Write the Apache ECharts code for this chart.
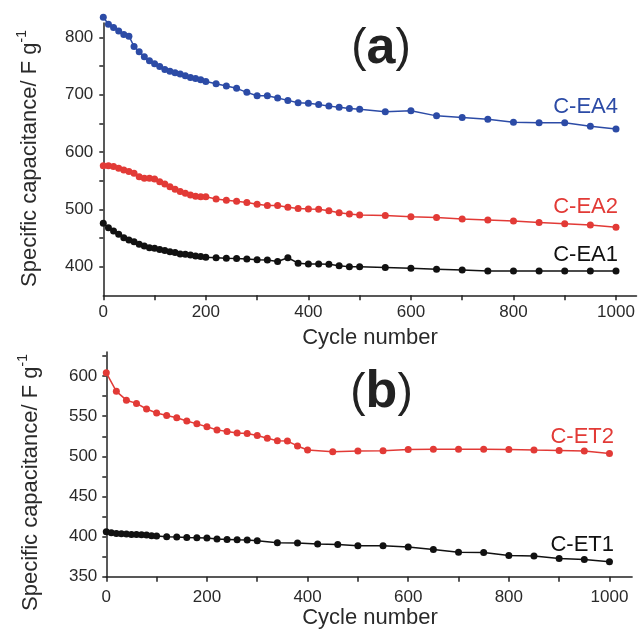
<!DOCTYPE html>
<html><head><meta charset="utf-8">
<script src="https://cdn.jsdelivr.net/npm/echarts@6/dist/echarts.min.js"></script>
<style>html,body{margin:0;padding:0;background:#fff}#c{width:638px;height:634px}</style>
</head><body><div id="c"></div>
<script>
// ---------- Data (panel a) ----------
const cyclesA = [0,10,20,30,40,50,60,70,80,90,100,110,120,130,140,150,160,170,180,190,200,
  220,240,260,280,300,320,340,360,380,400,420,440,460,480,500,
  550,600,650,700,750,800,850,900,950,1000];
const capEA4 = [835,823,817,811,805,802,784,775,766,759,754,749,744,741,738,736,733,730,728,726,723,
  719,715,711,704,698,698,694,690,686,685,683,680,678,676,674.5,
  670,672,663,660,657,652,651,651,645,640];
const capEA2 = [576,576,574.5,571.5,568.5,566,563,557,554,554,553,548,544,539.5,535,531,528,525,523,522,522,
  518,516,514,512,509,506.5,506.5,503.5,501.5,500.5,500,497.5,494,492,490,
  489,487,485.5,483,481.5,479.5,477,475,472.5,468.5];
const capEA1 = [475.5,468,462,456.5,450.5,446.5,443.5,439,436,433,432,430,428,426,424.5,422,421.5,420.5,418.5,417.5,416.5,
  415.5,414.5,414,413.5,412,411.5,409,415.5,406,404.5,404.5,404,401.5,400,400,
  398.5,397,395.5,394,392.5,392.5,392.5,392.5,392.5,392.5];

// ---------- Data (panel b) ----------
const cyclesET2 = [0,20,40,60,80,100,120,140,160,180,200,220,240,260,280,300,320,340,360,380,400,
  450,500,550,600,650,700,750,800,850,900,950,1000];
const capET2 = [604,581,570,566,559,554,551,548,544,540.5,537,533,531,529,528.5,526,522.5,519.5,519,513,508,
  505.7,506.6,507,508.7,509,509,509,508.7,507.8,507.4,506.6,503.7];
const cyclesET1 = [0,10,20,30,40,50,60,70,80,90,100,120,140,160,180,200,220,240,260,280,300,
  340,380,420,460,500,550,600,650,700,750,800,850,900,950,1000];
const capET1 = [406,404.8,404,403.6,403.2,402.8,402.8,402.4,402,401,400.7,399.8,399.5,399,398.6,398.2,397,396.6,396,395.7,394.8,
  392.4,392,391,390.3,388.6,388.6,387,384,380.7,380.3,376.6,375.8,372.9,371.6,368.7];

// ---------- Tick labels ----------
const xTickLabels = [0,200,400,600,800,1000];
const xTickMarks = [0,100,200,300,400,500,600,700,800,900,1000];
const yTickLabelsA = [400,500,600,700,800];
const yTickMarksA = [400,450,500,550,600,650,700,750,800];
const yTickLabelsB = [350,400,450,500,550,600];
const yTickMarksB = [350,375,400,425,450,475,500,525,550,575,600,625];

const FONT = 'Liberation Sans, Arial, sans-serif';
const AX = '#222';
const TXT = '#2a2a2a';
const BLUE = '#2c4ba6', RED = '#e23a36', BLACK = '#111111';

function ser(name, xs, ys, color, idx) {
  return {
    name, type: 'line', xAxisIndex: idx, yAxisIndex: idx,
    data: xs.map((x, i) => [x, ys[i]]),
    symbol: 'circle', symbolSize: 7, showSymbol: true, clip: false,
    lineStyle: { color, width: 1.5 }, itemStyle: { color },
    emphasis: { disabled: true }
  };
}
function xAx(idx, max, margin) {
  return {
    type: 'value', gridIndex: idx, min: 0, max,
    axisLine: { show: true, onZero: false, lineStyle: { color: AX, width: 1.5 } },
    axisTick: { show: true, inside: false, length: 5, customValues: xTickMarks, lineStyle: { color: AX, width: 1.5 } },
    axisLabel: { customValues: xTickLabels, margin, fontSize: 17, color: TXT, fontFamily: FONT, formatter: v => String(v) },
    splitLine: { show: false }
  };
}
function yAx(idx, min, max, labels, marks, margin) {
  return {
    type: 'value', gridIndex: idx, min, max,
    axisLine: { show: true, onZero: false, lineStyle: { color: AX, width: 1.5 } },
    axisTick: { show: true, inside: false, length: 4, customValues: marks, lineStyle: { color: AX, width: 1.5 } },
    axisLabel: { customValues: labels, margin, fontSize: 17, color: TXT, fontFamily: FONT, formatter: v => String(v) },
    splitLine: { show: false }
  };
}
function label(text, x, y, color, size) {
  return { type: 'text', x, y, z: 100,
    style: { text, fill: color, fontSize: size || 22, fontFamily: FONT, align: 'right', verticalAlign: 'middle' } };
}
function centerText(text, x, y, size) {
  return { type: 'text', x, y, z: 100,
    style: { text, fill: TXT, fontSize: size, fontFamily: FONT, align: 'center', verticalAlign: 'middle' } };
}
function yName(x, y) {
  return { type: 'text', x, y, rotation: Math.PI / 2, z: 100,
    style: { text: '{m|Specific capacitance/ F g}{s|-1}', align: 'center', verticalAlign: 'middle',
      rich: { m: { fontSize: 22, fontFamily: FONT, fill: TXT, lineHeight: 30 },
              s: { fontSize: 14, fontFamily: FONT, fill: TXT, verticalAlign: 'top' } } } };
}
function panelTag(letter, x, y) {
  return { type: 'text', x, y, z: 100,
    style: { text: '{p|(}{b|' + letter + '}{p|)}', align: 'center', verticalAlign: 'middle',
      rich: { p: { fontSize: 46, fontFamily: FONT, fill: '#222' },
              b: { fontSize: 52, fontFamily: FONT, fontWeight: 'bold', fill: '#222' } } } };
}

const chart = echarts.init(document.getElementById('c'), null, { renderer: 'canvas' });
chart.setOption({
  animation: false,
  backgroundColor: '#fff',
  grid: [
    { left: 103.3, top: 23, width: 533.2, height: 272.3, containLabel: false, outerBoundsMode: 'none' },
    { left: 106.3, top: 352, width: 525.8, height: 224.8, containLabel: false, outerBoundsMode: 'none' }
  ],
  xAxis: [xAx(0, 1040, 9), xAx(1, 1045, 12)],
  yAxis: [yAx(0, 350, 825, yTickLabelsA, yTickMarksA, 10), yAx(1, 350, 630, yTickLabelsB, yTickMarksB, 9)],
  series: [
    ser('C-EA4', cyclesA, capEA4, BLUE, 0),
    ser('C-EA2', cyclesA, capEA2, RED, 0),
    ser('C-EA1', cyclesA, capEA1, BLACK, 0),
    ser('C-ET2', cyclesET2, capET2, RED, 1),
    ser('C-ET1', cyclesET1, capET1, BLACK, 1)
  ],
  graphic: [
    label('C-EA4', 618, 107, BLUE),
    label('C-EA2', 618, 207, RED),
    label('C-EA1', 618, 254.5, BLACK),
    label('C-ET2', 614, 437, RED),
    label('C-ET1', 614, 544.5, BLACK),
    centerText('Cycle number', 370, 338, 22),
    centerText('Cycle number', 370, 618, 22),
    yName(30, 158.5),
    yName(31, 482.5),
    panelTag('a', 381, 48.5),
    panelTag('b', 381.5, 393)
  ]
});
</script></body></html>
